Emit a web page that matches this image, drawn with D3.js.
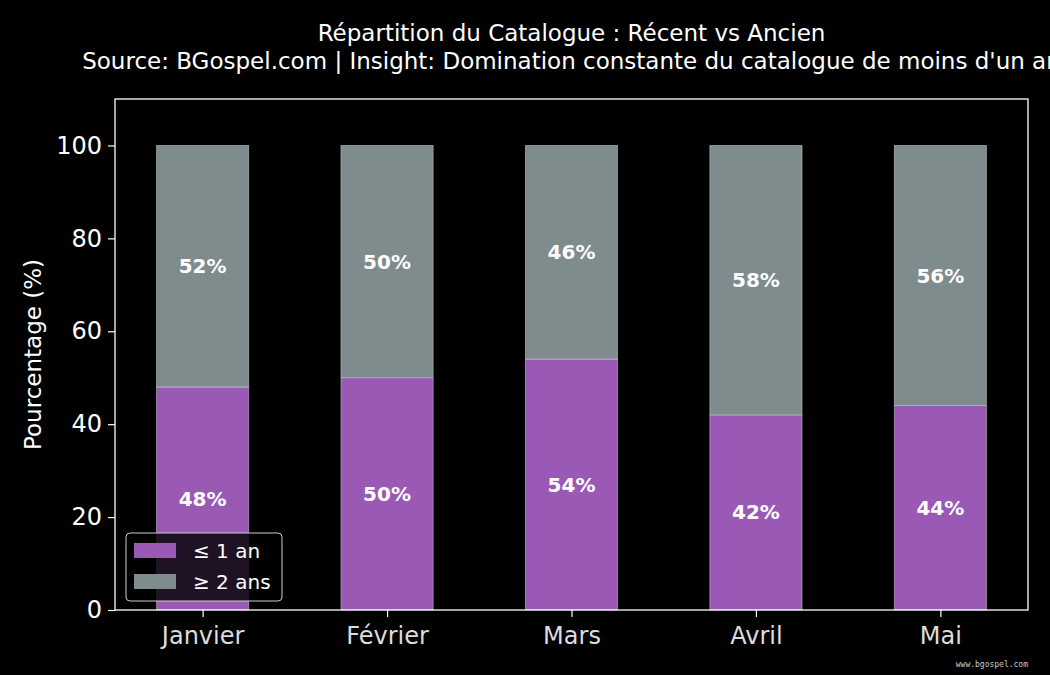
<head>
<script src="https://d3js.org/d3.v7.min.js" charset="utf-8"></script>
</head>

<body>
<div id="chart"></div>

<style>
    body {background:#000;margin:0;}
    text {font-family:"DejaVu Sans", sans-serif;fill:#fff;}
</style>

<script>

const width = 1050, height = 675;
const margin = {top: 99, right: 22, bottom: 65, left: 115};

const mois = ["Janvier", "Février", "Mars", "Avril", "Mai"];
const recent = [48, 50, 54, 42, 44];   // ≤ 1 an
const ancien = [52, 50, 46, 58, 56];   // ≥ 2 ans
const yTicks = [0, 20, 40, 60, 80, 100];

const colors = {recent: "#9b59b6", ancien: "#7f8c8d"};

const svg = d3.select("#chart").append("svg")
    .attr("width", width)
    .attr("height", height);

// x en position continue, comme matplotlib (marges de 5%)
const x = d3.scaleLinear()
    .domain([-0.475, mois.length - 1 + 0.475])
    .range([margin.left, width - margin.right]);

const y = d3.scaleLinear()
    .domain([0, 110])
    .range([height - margin.bottom, margin.top]);

const barW = x(0.5) - x(0);

const g = svg.append("g");

// barres du bas
g.selectAll(".recent")
    .data(recent)
    .enter().append("rect")
    .attr("class", "recent")
    .attr("x", (d, i) => x(i) - barW / 2)
    .attr("y", d => y(d))
    .attr("width", barW)
    .attr("height", d => y(0) - y(d))
    .style("fill", colors.recent)
    .style("stroke", "rgba(255,255,255,0.45)")
    .style("stroke-width", 0.8);

// barres du haut
g.selectAll(".ancien")
    .data(ancien)
    .enter().append("rect")
    .attr("class", "ancien")
    .attr("x", (d, i) => x(i) - barW / 2)
    .attr("y", (d, i) => y(recent[i] + d))
    .attr("width", barW)
    .attr("height", (d, i) => y(recent[i]) - y(recent[i] + d))
    .style("fill", colors.ancien)
    .style("stroke", "rgba(255,255,255,0.45)")
    .style("stroke-width", 0.8);

// étiquettes
g.selectAll(".lblR")
    .data(recent)
    .enter().append("text")
    .attr("x", (d, i) => x(i))
    .attr("y", d => y(d / 2))
    .attr("dy", "0.35em")
    .attr("text-anchor", "middle")
    .style("font-weight", "bold")
    .style("font-size", "20px")
    .text(d => d + "%");

g.selectAll(".lblA")
    .data(ancien)
    .enter().append("text")
    .attr("x", (d, i) => x(i))
    .attr("y", (d, i) => y(recent[i] + d / 2))
    .attr("dy", "0.35em")
    .attr("text-anchor", "middle")
    .style("font-weight", "bold")
    .style("font-size", "20px")
    .text(d => d + "%");

// axes
const xAxis = svg.append("g")
    .attr("transform", `translate(0,${height - margin.bottom})`)
    .call(d3.axisBottom(x).tickValues(d3.range(mois.length)).tickFormat(i => mois[i]).tickSize(7).tickPadding(10));

const yAxis = svg.append("g")
    .attr("transform", `translate(${margin.left},0)`)
    .call(d3.axisLeft(y).tickValues(yTicks).tickSize(7).tickPadding(6));

[xAxis, yAxis].forEach(a => {
    a.select(".domain").remove();
    a.selectAll("line").style("stroke", "#fff").style("stroke-width", 1.2);
    a.selectAll("text").style("font-size", "24px").style("fill", "#fff");
});
xAxis.selectAll("text").style("fill", "#ddd");

// cadre
svg.append("rect")
    .attr("x", margin.left)
    .attr("y", margin.top)
    .attr("width", width - margin.right - margin.left)
    .attr("height", height - margin.bottom - margin.top)
    .style("fill", "none")
    .style("stroke", "#fff")
    .style("stroke-width", 1.3);

// titre (la 2e ligne déborde à droite, comme dans l'original)
const cx = (margin.left + width - margin.right) / 2;
svg.append("text")
    .attr("x", cx).attr("y", 41)
    .attr("text-anchor", "middle")
    .style("font-size", "23px")
    .text("Répartition du Catalogue : Récent vs Ancien");
svg.append("text")
    .attr("x", cx).attr("y", 69)
    .attr("text-anchor", "middle")
    .style("font-size", "23px")
    .text("Source: BGospel.com | Insight: Domination constante du catalogue de moins d'un an");

svg.append("text")
    .attr("transform", `translate(41,${(margin.top + height - margin.bottom) / 2}) rotate(-90)`)
    .attr("text-anchor", "middle")
    .style("font-size", "23px")
    .text("Pourcentage (%)");

// légende
const leg = svg.append("g").attr("transform", "translate(126,533)");
leg.append("rect")
    .attr("width", 156).attr("height", 68)
    .attr("rx", 4)
    .style("fill", "rgba(0,0,0,0.8)")
    .style("stroke", "#ccc")
    .style("stroke-width", 1);
const legItems = [{label: "≤ 1 an", c: colors.recent}, {label: "≥ 2 ans", c: colors.ancien}];
legItems.forEach((d, i) => {
    leg.append("rect")
        .attr("x", 8).attr("y", 10 + i * 31)
        .attr("width", 42).attr("height", 15)
        .style("fill", d.c);
    leg.append("text")
        .attr("x", 67).attr("y", 18 + i * 31)
        .attr("dy", "0.35em")
        .style("font-size", "20px")
        .text(d.label);
});

// filigrane
svg.append("text")
    .attr("x", 1028).attr("y", 667)
    .attr("text-anchor", "end")
    .style("font-family", "DejaVu Sans Mono, monospace")
    .style("font-size", "8px")
    .style("fill", "#ccc")
    .text("www.bgospel.com");

</script>

</body>
